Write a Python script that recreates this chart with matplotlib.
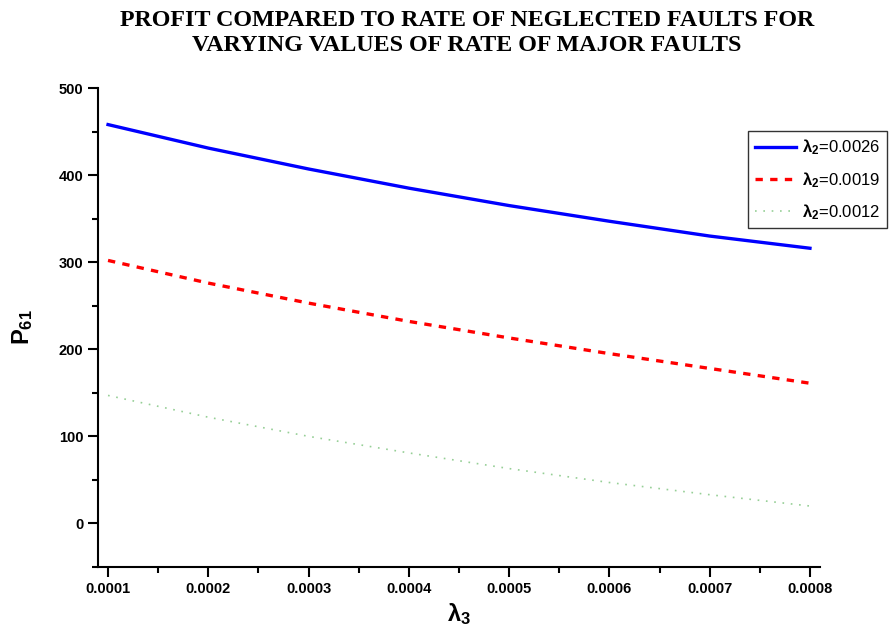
import numpy as np
import matplotlib.pyplot as plt
from matplotlib.ticker import MultipleLocator

lam3 = [0.0001, 0.0002, 0.0003, 0.0004, 0.0005, 0.0006, 0.0007, 0.0008]
p_0026 = [458, 431, 407, 385, 365, 347, 330, 316]
p_0019 = [302, 276, 253, 232, 213, 195, 178, 161]
p_0012 = [147, 122, 100, 81, 63, 47, 33, 20]
labels = ["0.0026", "0.0019", "0.0012"]

plt.rcParams['font.family'] = ['Liberation Sans', 'DejaVu Sans']
plt.rcParams['mathtext.fontset'] = 'custom'
plt.rcParams['mathtext.rm'] = 'Liberation Sans'
plt.rcParams['mathtext.bf'] = 'Liberation Sans:bold'
plt.rcParams['mathtext.it'] = 'Liberation Sans:italic'

fig = plt.figure(figsize=(8.89, 6.42), dpi=100)
ax = fig.add_axes([98 / 889, 1 - 567 / 642, 722 / 889, 479 / 642])

ax.plot(lam3, p_0026, color='#0000ff', lw=2.4, ls='-',
        label=r'$\mathbf{\lambda_2}$=' + labels[0])
ax.plot(lam3, p_0019, color='#ff0000', lw=2.4, ls=(0, (2.2, 2.2)),
        label=r'$\mathbf{\lambda_2}$=' + labels[1])
ax.plot(lam3, p_0012, color='#96cf96', lw=1.2, ls=(0, (1, 4)),
        label=r'$\mathbf{\lambda_2}$=' + labels[2])

ax.set_xlim(0.00009, 0.00081)
ax.set_ylim(-50, 500)
ax.xaxis.set_minor_locator(MultipleLocator(0.00005))
ax.yaxis.set_major_locator(MultipleLocator(100))
ax.yaxis.set_minor_locator(MultipleLocator(50))
ax.set_xticks(lam3)
ax.set_xticklabels(["%.4f" % v for v in lam3])

for s in ['top', 'right']:
    ax.spines[s].set_visible(False)
for s in ['left', 'bottom']:
    ax.spines[s].set_linewidth(1.5)
ax.tick_params(which='major', direction='out', length=7, width=1.5, labelsize=10.5)
ax.tick_params(which='minor', direction='out', length=4, width=1.5)
for t in ax.get_xticklabels() + ax.get_yticklabels():
    t.set_fontweight('bold')

ax.set_xlabel(r'$\mathbf{\lambda_3}$', fontsize=17, labelpad=4)
ax.set_ylabel(r'$\mathbf{P_{61}}$', fontsize=17, labelpad=17)

fig.text(0.525, 0.985, "PROFIT COMPARED TO RATE OF NEGLECTED FAULTS FOR\nVARYING VALUES OF RATE OF MAJOR FAULTS",
         ha='center', va='top', fontsize=17.3, fontweight='bold',
         family='Liberation Serif', linespacing=1.25)

leg = ax.legend(loc='upper left', bbox_to_anchor=(748 / 889, 1 - 131 / 642),
                bbox_transform=fig.transFigure, fontsize=12, frameon=True,
                fancybox=False, edgecolor='black', handlelength=2.5,
                handletextpad=0.35, borderpad=0.4, borderaxespad=0,
                labelspacing=0.75)
leg.get_frame().set_linewidth(1.0)

fig.savefig("out.png", dpi=100)
